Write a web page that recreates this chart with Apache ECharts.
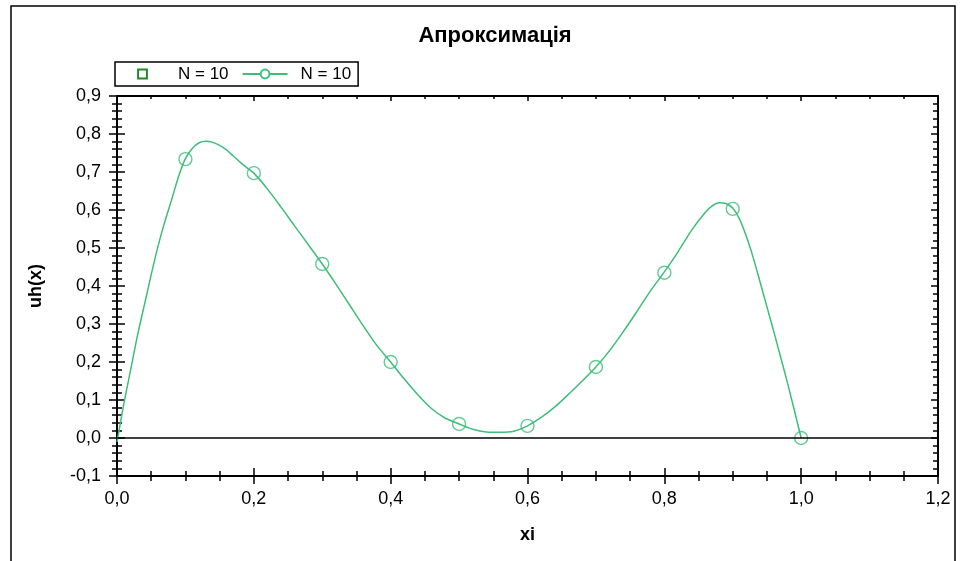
<!DOCTYPE html>
<html>
<head>
<meta charset="utf-8">
<script src="https://cdn.jsdelivr.net/npm/echarts@6/dist/echarts.min.js"></script>
<style>
html,body{margin:0;padding:0;background:#fff;}
#chart{width:964px;height:561px;}
</style>
</head>
<body>
<div id="chart"></div>
<script>
// ---- data ----
const titleText = 'Апроксимація';
const legendLabels = ['N = 10', 'N = 10'];
const xAxisName = 'xi';
const yAxisName = 'uh(x)';

const nodeX = [0.1, 0.2, 0.3, 0.4, 0.5, 0.6, 0.7, 0.8, 0.9, 1.0];
const nodeY = [0.734, 0.697, 0.458, 0.200, 0.037, 0.032, 0.187, 0.435, 0.603, 0.000];

const curveX = [0, 0.005, 0.01, 0.02, 0.03, 0.04, 0.05, 0.06, 0.07, 0.08, 0.09, 0.1, 0.11, 0.12, 0.13, 0.14, 0.15, 0.16, 0.17, 0.18, 0.19, 0.2,
  0.22, 0.24, 0.26, 0.28, 0.3, 0.32, 0.34, 0.36, 0.38, 0.4, 0.42, 0.44, 0.46, 0.48, 0.5, 0.52, 0.54, 0.56, 0.58, 0.6,
  0.62, 0.64, 0.66, 0.68, 0.7, 0.72, 0.74, 0.76, 0.78, 0.8, 0.82, 0.84, 0.86, 0.87, 0.88, 0.89, 0.9, 0.91, 0.92, 0.93,
  0.94, 0.95, 0.96, 0.97, 0.98, 0.99, 1.0];
const curveY = [-0.01, 0.04, 0.09, 0.18, 0.27, 0.35, 0.43, 0.505, 0.57, 0.628, 0.688, 0.735, 0.762, 0.777, 0.781, 0.778, 0.77, 0.758, 0.742, 0.726, 0.711, 0.697,
  0.655, 0.607, 0.557, 0.508, 0.458, 0.405, 0.35, 0.295, 0.243, 0.2, 0.155, 0.113, 0.077, 0.052, 0.037, 0.023, 0.016, 0.015, 0.018, 0.032,
  0.054, 0.082, 0.115, 0.15, 0.187, 0.23, 0.28, 0.333, 0.388, 0.437, 0.49, 0.547, 0.594, 0.611, 0.619, 0.617, 0.605, 0.576, 0.53, 0.474,
  0.41, 0.345, 0.28, 0.213, 0.145, 0.073, 0.0];

const xMin = 0, xMax = 1.2, xStep = 0.2;
const yMin = -0.1, yMax = 0.9, yStep = 0.1;

// ---- build ----
const FONT = '"Liberation Sans", Arial, sans-serif';
const GREEN = '#3cbe78';
const DARKGREEN = '#1f8a2a';
const fmt = v => (Math.abs(v) < 1e-9 ? 0 : v).toFixed(1).replace('.', ',');

const curveData = curveX.map((x, i) => [x, curveY[i]]);
const nodeData = nodeX.map((x, i) => [x, nodeY[i]]);

const axisLine = { show: true, onZero: false, lineStyle: { color: '#000', width: 2 } };
const gridBox = { left: 117, right: 26, top: 96, bottom: 85 };

function xAx(extra) {
  return Object.assign({
    type: 'value', min: xMin, max: xMax, interval: xStep,
    axisLine: axisLine, splitLine: { show: false }
  }, extra);
}
function yAx(extra) {
  return Object.assign({
    type: 'value', min: yMin, max: yMax, interval: yStep,
    axisLine: axisLine, splitLine: { show: false }
  }, extra);
}

const chart = echarts.init(document.getElementById('chart'), null, { renderer: 'canvas' });
chart.setOption({
  backgroundColor: '#fff',
  animation: false,
  textStyle: { fontFamily: FONT },
  title: {
    text: titleText, left: 490, top: 20, textAlign: 'center',
    textStyle: { fontFamily: FONT, fontSize: 22, fontWeight: 'bold', color: '#000' }
  },
  legend: {
    left: 115, top: 62, orient: 'horizontal',
    data: ['sq', 'ln'],
    formatter: name => name === 'sq' ? legendLabels[0] : legendLabels[1],
    itemWidth: 45, itemHeight: 11, itemGap: 13,
    borderColor: '#000', borderWidth: 1.5, borderRadius: 0,
    padding: [3, 7, 3, 5],
    textStyle: { fontFamily: FONT, fontSize: 17, color: '#000', padding: [0, 0, 0, 8], lineHeight: 18 }
  },
  graphic: [{
    type: 'rect', silent: true, z: 100,
    shape: { x: 11, y: 6, width: 944, height: 600 },
    style: { fill: 'none', stroke: '#000', lineWidth: 1.5 }
  }],
  grid: [Object.assign({}, gridBox), Object.assign({}, gridBox)],
  xAxis: [
    xAx({
      gridIndex: 0, position: 'bottom',
      axisTick: { show: true, inside: false, length: 8, lineStyle: { color: '#000', width: 1.5 } },
      minorTick: { show: true, splitNumber: 4, length: 5, lineStyle: { color: '#000', width: 1.5 } },
      axisLabel: { formatter: fmt, fontFamily: FONT, fontSize: 18, color: '#000', margin: 14 },
      name: xAxisName, nameLocation: 'middle', nameGap: 50,
      nameTextStyle: { fontFamily: FONT, fontSize: 18, fontWeight: 'bold', color: '#000' }
    }),
    xAx({
      gridIndex: 0, position: 'top',
      axisTick: { show: true, inside: true, length: 5, lineStyle: { color: '#000', width: 1.5 } },
      minorTick: { show: true, splitNumber: 4, length: 3, lineStyle: { color: '#000', width: 1.5 } },
      axisLabel: { show: false }
    }),
    xAx({
      gridIndex: 1, position: 'bottom',
      axisTick: { show: true, inside: true, length: 8, lineStyle: { color: '#000', width: 1.5 } },
      minorTick: { show: true, splitNumber: 4, length: 5, lineStyle: { color: '#000', width: 1.5 } },
      axisLabel: { show: false }
    })
  ],
  yAxis: [
    yAx({
      gridIndex: 0, position: 'left',
      axisTick: { show: true, inside: false, length: 8, lineStyle: { color: '#000', width: 1.5 } },
      minorTick: { show: true, splitNumber: 5, length: 5, lineStyle: { color: '#000', width: 1.5 } },
      axisLabel: { formatter: fmt, fontFamily: FONT, fontSize: 18, color: '#000', margin: 16 },
      name: yAxisName, nameLocation: 'middle', nameGap: 72, nameRotate: 90,
      nameTextStyle: { fontFamily: FONT, fontSize: 18, fontWeight: 'bold', color: '#000' }
    }),
    yAx({
      gridIndex: 0, position: 'right',
      axisTick: { show: true, inside: true, length: 7, lineStyle: { color: '#000', width: 1.5 } },
      minorTick: { show: true, splitNumber: 5, length: 5, lineStyle: { color: '#000', width: 1.5 } },
      axisLabel: { show: false }
    }),
    yAx({
      gridIndex: 1, position: 'left',
      axisTick: { show: true, inside: true, length: 8, lineStyle: { color: '#000', width: 1.5 } },
      minorTick: { show: true, splitNumber: 5, length: 5, lineStyle: { color: '#000', width: 1.5 } },
      axisLabel: { show: false }
    })
  ],
  series: [
    {
      name: 'sq', type: 'line', xAxisIndex: 0, yAxisIndex: 0,
      data: [], symbol: 'emptyRect', symbolSize: 7,
      itemStyle: { color: DARKGREEN },
      lineStyle: { width: 0, opacity: 0 }
    },
    {
      name: 'ln', type: 'line', xAxisIndex: 0, yAxisIndex: 0,
      data: curveData, symbol: 'emptyCircle', showSymbol: false, smooth: 0.3,
      itemStyle: { color: GREEN },
      lineStyle: { color: GREEN, width: 1.5 },
      markLine: {
        silent: true, symbol: ['none', 'none'], label: { show: false },
        lineStyle: { color: '#000', width: 1.5, type: 'solid' },
        data: [{ yAxis: 0 }]
      },
      z: 3
    },
    {
      name: 'nodes', type: 'scatter', xAxisIndex: 0, yAxisIndex: 0,
      data: nodeData, symbol: 'circle', symbolSize: 13,
      itemStyle: { color: 'rgba(0,0,0,0)', borderColor: GREEN, borderWidth: 1.4 },
      z: 4
    }
  ]
});
</script>
</body>
</html>
